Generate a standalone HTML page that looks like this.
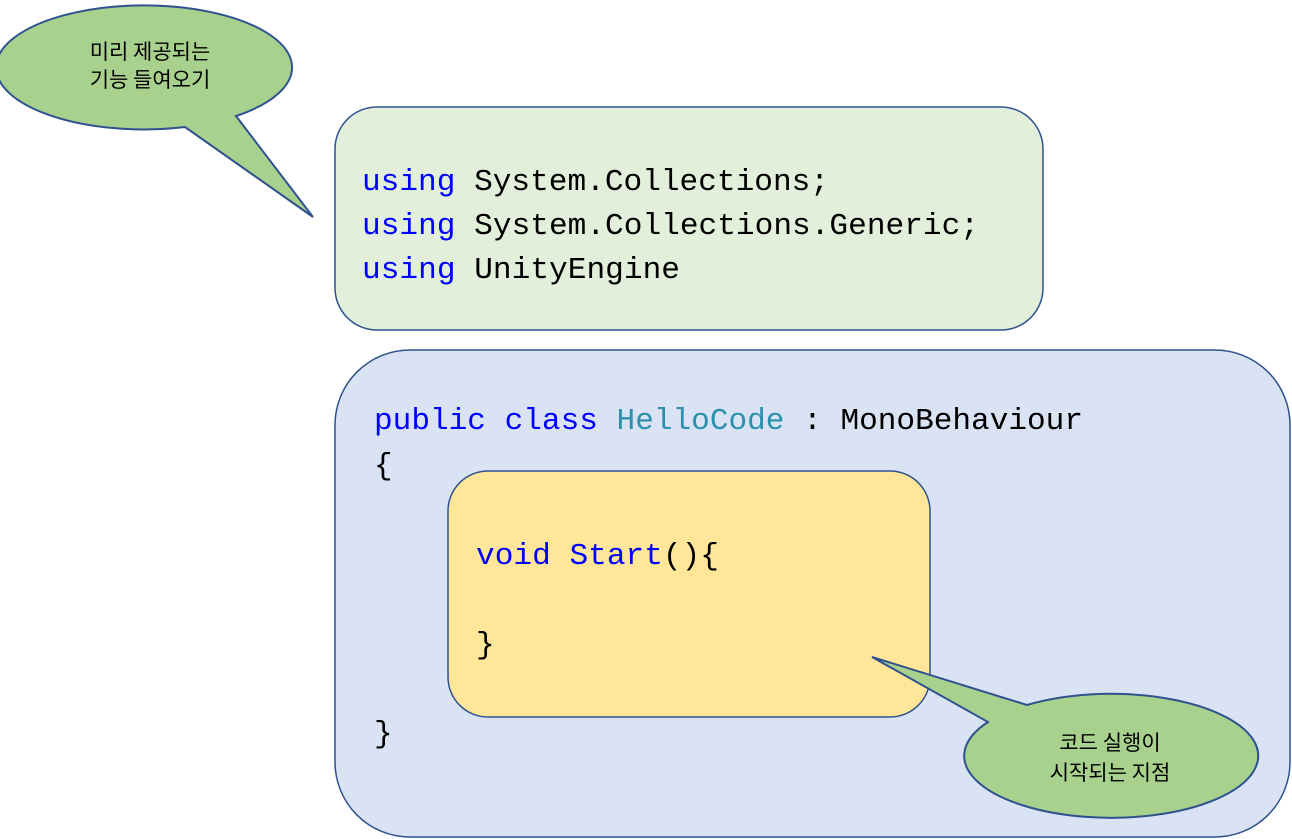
<!DOCTYPE html>
<html><head><meta charset="utf-8"><style>
html,body{margin:0;padding:0;background:#fff;width:1292px;height:839px;overflow:hidden}
.k{font-family:"Noto Sans CJK KR","NanumGothic",sans-serif;font-size:21px;fill:#000}
.m{font-family:"Liberation Mono",monospace;font-size:31px;fill:#000}
.b{fill:#0000ff}.t{fill:#2b91af}
</style></head><body>
<svg width="1292" height="839" viewBox="0 0 1292 839" xmlns="http://www.w3.org/2000/svg">
<rect x="335" y="107" width="708" height="223" rx="42" fill="#e2efda" stroke="#2f528f" stroke-width="1.5"/>
<rect x="335" y="350" width="955" height="487" rx="75" fill="#dae3f3" stroke="#2f528f" stroke-width="1.5"/>
<rect x="448" y="471" width="482" height="246" rx="40" fill="#ffe699" stroke="#2f528f" stroke-width="1.5"/>

<path d="M185,127 A148,62 0 1 1 236,116 L313,217 Z" fill="#a9d18e" stroke="#2f528f" stroke-width="2" stroke-linejoin="miter"/>
<path d="M1027,705 A147,62 0 1 1 988,722 L872,657 Z" fill="#a9d18e" stroke="#2f528f" stroke-width="2"/>

<text class="k" x="150" y="59" text-anchor="middle">미리 제공되는</text>
<text class="k" x="150" y="87" text-anchor="middle">기능 들여오기</text>
<text class="k" x="1110" y="750" text-anchor="middle">코드 실행이</text>
<text class="k" x="1110" y="780" text-anchor="middle">시작되는 지점</text>

<text class="m" x="362" y="190" textLength="467" lengthAdjust="spacingAndGlyphs"><tspan class="b">using</tspan> System.Collections;</text>
<text class="m" x="362" y="234" textLength="617" lengthAdjust="spacingAndGlyphs"><tspan class="b">using</tspan> System.Collections.Generic;</text>
<text class="m" x="362" y="278" textLength="318" lengthAdjust="spacingAndGlyphs"><tspan class="b">using</tspan> UnityEngine</text>

<text class="m" x="374" y="429" textLength="709" lengthAdjust="spacingAndGlyphs"><tspan class="b">public class</tspan> <tspan class="t">HelloCode</tspan> : MonoBehaviour</text>
<text class="m" x="374" y="474">{</text>
<text class="m" x="476" y="564" textLength="243" lengthAdjust="spacingAndGlyphs"><tspan class="b">void Start</tspan>(){</text>
<text class="m" x="476" y="653">}</text>
<text class="m" x="374" y="742">}</text>
</svg>
</body></html>
